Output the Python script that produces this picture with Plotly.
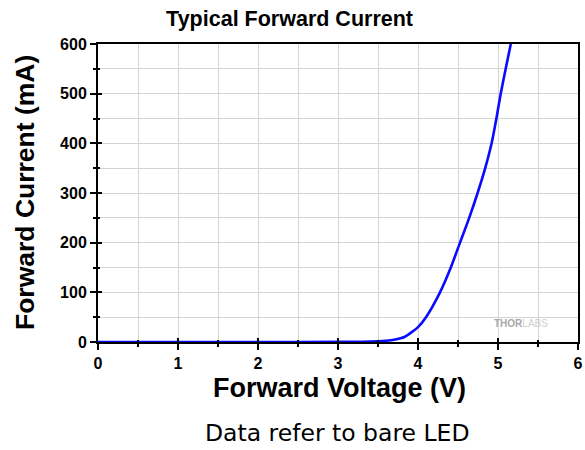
import plotly.graph_objects as go

# Data
voltage = [0, 1.0, 2.0, 3.0, 3.3, 3.5, 3.6, 3.7, 3.83, 4.0, 4.1, 4.275, 4.41,
           4.525, 4.64, 4.745, 4.84, 4.92, 4.98, 5.034, 5.096, 5.16]
current = [0, 0, 0, 0.3, 0.6, 1.5, 2.5, 4.5, 10, 30, 50, 100, 150,
           200, 250, 300, 350, 400, 450, 500, 550, 600]

x_ticks = [0, 1, 2, 3, 4, 5, 6]
y_ticks = [0, 100, 200, 300, 400, 500, 600]

title_text = "Typical Forward Current"
x_title = "Forward Voltage (V)"
y_title = "Forward Current (mA)"
note_text = "Data refer to bare LED"

BOLD = "Liberation Sans, Arial, sans-serif"

fig = go.Figure()
fig.add_trace(go.Scatter(
    x=voltage, y=current, mode="lines",
    line=dict(color="#0a0aff", width=2.6, shape="spline", smoothing=0.6),
    showlegend=False, hoverinfo="skip"))
# invisible helper trace to carry the inside-tick overlay axes
fig.add_trace(go.Scatter(x=[0], y=[0], xaxis="x2", yaxis="y2", mode="markers",
                         marker=dict(opacity=0), showlegend=False, hoverinfo="skip"))

grid_col = "#d4d4d4"
common_tickfont = dict(family=BOLD, size=16, color="black", weight="bold")

fig.update_layout(
    width=585, height=450,
    margin=dict(l=98, r=7, t=44, b=108, autoexpand=False),
    paper_bgcolor="white", plot_bgcolor="white",
    title=dict(text="<b>" + title_text + "</b>", x=0.495, xref="container",
               y=1 - 18 / 450, yref="container", yanchor="middle", xanchor="center",
               font=dict(family=BOLD, size=21.5, color="black")),
    xaxis=dict(range=[0, 6], tickvals=x_ticks, ticks="outside", ticklen=6, tickwidth=2,
               tickcolor="black", showgrid=True, gridcolor=grid_col, gridwidth=1,
               minor=dict(dtick=0.5, ticks="outside", ticklen=3, tickwidth=2,
                          tickcolor="black", showgrid=True, gridcolor=grid_col, gridwidth=1),
               showline=True, linecolor="black", linewidth=2, mirror=True,
               zeroline=False, tickfont=common_tickfont, fixedrange=True,
               automargin=False, ticklabeloverflow="allow"),
    yaxis=dict(range=[0, 600], tickvals=y_ticks, ticks="outside", ticklen=6, tickwidth=2,
               tickcolor="black", showgrid=True, gridcolor=grid_col, gridwidth=1,
               minor=dict(dtick=50, ticks="outside", ticklen=3, tickwidth=2,
                          tickcolor="black", showgrid=True, gridcolor=grid_col, gridwidth=1),
               showline=True, linecolor="black", linewidth=2, mirror=True,
               zeroline=False, tickfont=common_tickfont, fixedrange=True,
               automargin=False, ticklabeloverflow="allow"),
    xaxis2=dict(range=[0, 6], overlaying="x", side="bottom", tickvals=x_ticks,
                ticks="inside", ticklen=4, tickwidth=2, tickcolor="black",
                showticklabels=False, showgrid=False, zeroline=False,
                minor=dict(dtick=0.5, ticks="inside", ticklen=2, tickwidth=2, tickcolor="black"),
                fixedrange=True, automargin=False),
    yaxis2=dict(range=[0, 600], overlaying="y", side="left", tickvals=y_ticks,
                ticks="inside", ticklen=4, tickwidth=2, tickcolor="black",
                showticklabels=False, showgrid=False, zeroline=False,
                minor=dict(dtick=50, ticks="inside", ticklen=2, tickwidth=2, tickcolor="black"),
                fixedrange=True, automargin=False),
    annotations=[
        dict(text="<b>" + x_title + "</b>", xref="paper", yref="paper",
             x=0.0, y=(342 - 388) / 298, xanchor="center", yanchor="middle",
             xshift=(339 - 98), showarrow=False,
             font=dict(family=BOLD, size=27, color="black")),
        dict(text="<b>" + y_title + "</b>", xref="paper", yref="paper",
             x=(25 - 98) / 480, y=0.5, xanchor="center", yanchor="middle",
             textangle=-90, showarrow=False,
             font=dict(family=BOLD, size=26.5, color="black")),
        dict(text=note_text, xref="paper", yref="paper",
             x=0.0, y=(342 - 433) / 298, xanchor="center", yanchor="middle",
             xshift=(337 - 98), showarrow=False,
             font=dict(family="DejaVu Sans", size=23.5, color="black")),
        dict(text="<b>THOR</b><span style='color:#cfcfcf'>LABS</span>", xref="x", yref="y",
             x=5.29, y=38, xanchor="center", yanchor="middle", showarrow=False,
             font=dict(family=BOLD, size=10, color="#a8a8a8")),
    ],
)

fig.write_html("out.html", config={"displayModeBar": False},
               post_script="document.body.style.margin='0';document.body.style.overflow='hidden';")
